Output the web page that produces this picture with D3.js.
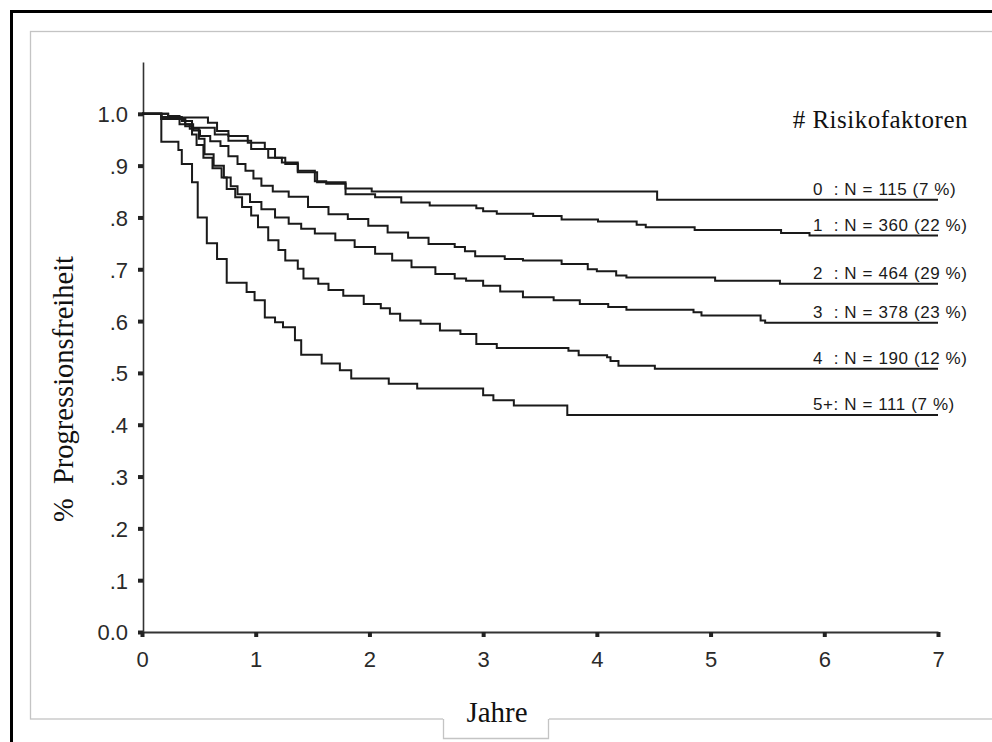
<!DOCTYPE html>
<html>
<head>
<meta charset="utf-8">
<script src="https://cdn.jsdelivr.net/npm/d3@7"></script>
<style>
  html, body { margin: 0; padding: 0; background: #fff; }
  svg { display: block; }
  .tick text { font-family: "Liberation Sans", Arial, sans-serif; font-size: 22px; fill: #2a2a2a; }
  .serif { font-family: "Liberation Serif", "Times New Roman", serif; fill: #111; }
  .lab { font-family: "Liberation Sans", Arial, sans-serif; font-size: 17px; letter-spacing: 0.6px; fill: #1a1a1a; }
</style>
</head>
<body>
<svg id="chart" width="992" height="742"></svg>
<script>
// ---- DATA ----
const groups = ["0", "1", "2", "3", "4", "5+"];
const groupLabels = [
  "0  : N = 115 (7 %)",
  "1  : N = 360 (22 %)",
  "2  : N = 464 (29 %)",
  "3  : N = 378 (23 %)",
  "4  : N = 190 (12 %)",
  "5+: N = 111 (7 %)"
];

// time points (years) and survival values, one pair of arrays per risk group
const t0 = [0, 0.23, 0.33, 0.58, 0.66, 0.76, 0.93, 1.08, 1.17, 1.26, 1.37, 1.52, 1.62, 1.79, 2.02, 4.53, 7];
const s0 = [1, 0.996, 0.993, 0.983, 0.967, 0.957, 0.944, 0.932, 0.915, 0.903, 0.89, 0.87, 0.865, 0.856, 0.85, 0.834, 0.834];

const t1 = [0, 0.17, 0.35, 0.44, 0.64, 0.76, 0.96, 1.11, 1.23, 1.37, 1.54, 1.79, 2.05, 2.28, 2.53, 2.94, 3.0, 3.12, 3.44, 3.69, 4.01, 4.35, 4.43, 4.86, 5.62, 5.87, 7];
const s1 = [1, 0.994, 0.986, 0.973, 0.96, 0.948, 0.932, 0.915, 0.906, 0.887, 0.868, 0.845, 0.839, 0.829, 0.823, 0.818, 0.812, 0.807, 0.803, 0.796, 0.792, 0.786, 0.781, 0.776, 0.77, 0.765, 0.765];

const t2 = [0, 0.23, 0.38, 0.45, 0.51, 0.6, 0.69, 0.76, 0.84, 0.91, 0.98, 1.05, 1.15, 1.29, 1.46, 1.64, 1.81, 1.99, 2.16, 2.34, 2.52, 2.75, 2.84, 2.93, 3.19, 3.35, 3.69, 3.92, 4.0, 4.17, 4.26, 5.04, 5.61, 7];
const s2 = [1, 0.99, 0.98, 0.968, 0.957, 0.947, 0.938, 0.918, 0.903, 0.89, 0.875, 0.861, 0.85, 0.84, 0.82, 0.806, 0.797, 0.784, 0.771, 0.761, 0.749, 0.743, 0.735, 0.725, 0.72, 0.717, 0.71, 0.70, 0.696, 0.688, 0.684, 0.678, 0.672, 0.672];

const t3 = [0, 0.17, 0.33, 0.42, 0.5, 0.55, 0.63, 0.72, 0.78, 0.84, 0.95, 1.05, 1.17, 1.29, 1.4, 1.52, 1.7, 1.87, 2.05, 2.2, 2.37, 2.58, 2.75, 2.85, 3.0, 3.15, 3.35, 3.62, 3.85, 4.1, 4.26, 4.85, 4.92, 5.44, 5.48, 7];
const s3 = [1, 0.99, 0.98, 0.971, 0.952, 0.922, 0.9, 0.877, 0.86, 0.845, 0.83, 0.816, 0.80, 0.788, 0.778, 0.769, 0.756, 0.743, 0.73, 0.717, 0.704, 0.691, 0.682, 0.678, 0.668, 0.657, 0.646, 0.64, 0.633, 0.627, 0.622, 0.617, 0.611, 0.601, 0.597, 0.597];

const t4 = [0, 0.17, 0.38, 0.44, 0.48, 0.54, 0.62, 0.70, 0.745, 0.82, 0.88, 0.96, 1.02, 1.11, 1.2, 1.26, 1.37, 1.42, 1.55, 1.64, 1.77, 1.95, 2.1, 2.18, 2.27, 2.45, 2.62, 2.8, 2.94, 3.12, 3.75, 3.84, 4.09, 4.12, 4.19, 4.51, 7];
const s4 = [1, 0.99, 0.976, 0.96, 0.94, 0.915, 0.895, 0.877, 0.855, 0.839, 0.82, 0.804, 0.781, 0.756, 0.737, 0.717, 0.701, 0.682, 0.672, 0.66, 0.649, 0.633, 0.625, 0.614, 0.601, 0.595, 0.582, 0.575, 0.556, 0.548, 0.543, 0.534, 0.53, 0.523, 0.514, 0.508, 0.508];

const t5 = [0, 0.17, 0.32, 0.35, 0.44, 0.49, 0.57, 0.66, 0.745, 0.92, 0.99, 1.08, 1.17, 1.24, 1.345, 1.40, 1.58, 1.74, 1.84, 2.17, 2.42, 3.0, 3.09, 3.27, 3.74, 7];
const s5 = [1, 0.946, 0.93, 0.903, 0.868, 0.80, 0.75, 0.72, 0.674, 0.656, 0.64, 0.607, 0.598, 0.588, 0.563, 0.535, 0.518, 0.505, 0.489, 0.479, 0.47, 0.457, 0.447, 0.437, 0.419, 0.419];

const times = [t0, t1, t2, t3, t4, t5];
const surv  = [s0, s1, s2, s3, s4, s5];

const xTicks = [0, 1, 2, 3, 4, 5, 6, 7];
const yTicks = [0, 0.1, 0.2, 0.3, 0.4, 0.5, 0.6, 0.7, 0.8, 0.9, 1.0];
const yTickLabels = ["0.0", ".1", ".2", ".3", ".4", ".5", ".6", ".7", ".8", ".9", "1.0"];

const yTitle = "%  Progressionsfreiheit";
const xTitle = "Jahre";
const legendTitle = "# Risikofaktoren";

// ---- DRAW ----
const svg = d3.select("#chart");

// scan frame: black border top/left, grey inner frame
svg.append("rect")
  .attr("x", 11.5).attr("y", 11.5).attr("width", 1100).attr("height", 1100)
  .attr("fill", "#fff").attr("stroke", "#000").attr("stroke-width", 3);
svg.append("rect")
  .attr("x", 30.5).attr("y", 31.5).attr("width", 1100).attr("height", 687.5)
  .attr("fill", "#fff").attr("stroke", "#c4c4c4").attr("stroke-width", 1.3);

const x = d3.scaleLinear().domain([0, 7]).range([142, 938]);
const y = d3.scaleLinear().domain([0, 1.1]).range([632, 62]);

// y axis
const gy = svg.append("g")
  .attr("transform", "translate(143,0)")
  .call(d3.axisLeft(y).tickValues(yTicks)
    .tickFormat((d, i) => yTickLabels[i])
    .tickSize(5).tickSizeOuter(0).tickPadding(10));
gy.select(".domain").attr("stroke", "#333").attr("stroke-width", 1.6);
gy.selectAll(".tick line").attr("stroke", "#222").attr("stroke-width", 4);
gy.selectAll(".tick text").attr("dy", "0.36em");

// x axis
const gx = svg.append("g")
  .attr("transform", `translate(0,${y(0)})`)
  .call(d3.axisBottom(x).tickValues(xTicks)
    .tickFormat(d3.format("d"))
    .tickSize(5).tickSizeOuter(0).tickPadding(14));
gx.select(".domain").attr("stroke", "#333").attr("stroke-width", 2);
gx.selectAll(".tick line").attr("stroke", "#222").attr("stroke-width", 4);

// step curves
const line = d3.line()
  .x(d => x(d[0]))
  .y(d => y(d[1]))
  .curve(d3.curveStepAfter);

svg.append("g")
  .selectAll("path")
  .data(groups.map((g, i) => times[i].map((t, j) => [t, surv[i][j]])))
  .join("path")
  .attr("d", line)
  .attr("fill", "none")
  .attr("stroke", "#1a1a1a")
  .attr("stroke-width", 2);

// group labels, placed just above each curve's end
const lastVal = surv.map(s => s[s.length - 1]);
svg.append("g")
  .selectAll("text")
  .data(groupLabels)
  .join("text")
  .attr("class", "lab")
  .attr("x", 813)
  .attr("y", (d, i) => y(lastVal[i]) - 5)
  .style("white-space", "pre")
  .text(d => d);

svg.append("text")
  .attr("class", "serif")
  .attr("x", 968).attr("y", 128)
  .attr("text-anchor", "end")
  .style("font-size", "25px")
  .style("letter-spacing", "0.5px")
  .text(legendTitle);

// y title
svg.append("text")
  .attr("class", "serif")
  .attr("transform", "translate(73,389) rotate(-90)")
  .attr("text-anchor", "middle")
  .style("font-size", "28.5px")
  .style("white-space", "pre")
  .text(yTitle);

// x title in its little box below the frame
svg.append("rect")
  .attr("x", 443).attr("y", 716).attr("width", 106).attr("height", 22)
  .attr("fill", "#fff");
svg.append("path")
  .attr("d", "M443.5,719 V738.5 H548.5 V719")
  .attr("fill", "none").attr("stroke", "#c4c4c4").attr("stroke-width", 1.3);
svg.append("text")
  .attr("class", "serif")
  .attr("x", 497).attr("y", 722)
  .attr("text-anchor", "middle")
  .style("font-size", "29px")
  .text(xTitle);
</script>
</body>
</html>
